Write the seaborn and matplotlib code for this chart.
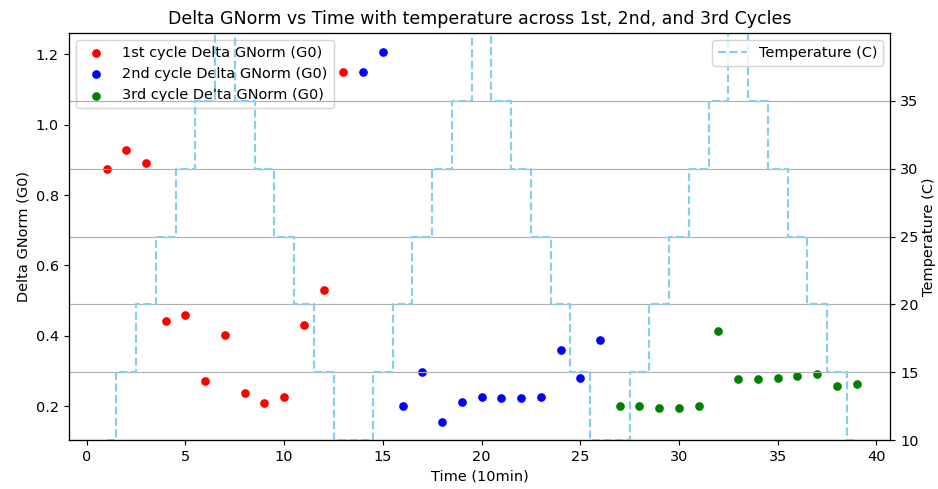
import matplotlib
matplotlib.use("Agg")
import matplotlib.pyplot as plt
import seaborn as sns
import pandas as pd

# Data
time_c1 = [1, 2, 3, 4, 5, 6, 7, 8, 9, 10, 11, 12, 13]
gnorm_c1 = [0.874, 0.928, 0.892, 0.441, 0.459, 0.270, 0.402, 0.237, 0.209, 0.227, 0.429, 0.529, 1.151]
time_c2 = [14, 15, 16, 17, 18, 19, 20, 21, 22, 23, 24, 25, 26]
gnorm_c2 = [1.151, 1.208, 0.200, 0.297, 0.156, 0.212, 0.227, 0.222, 0.222, 0.227, 0.360, 0.281, 0.388]
time_c3 = [27, 28, 29, 30, 31, 32, 33, 34, 35, 36, 37, 38, 39]
gnorm_c3 = [0.200, 0.200, 0.194, 0.194, 0.200, 0.412, 0.278, 0.278, 0.281, 0.284, 0.291, 0.257, 0.264]

time_all = list(range(1, 40))
temperature = [10, 15, 20, 25, 30, 35, 40, 35, 30, 25, 20, 15, 10,
               10, 15, 20, 25, 30, 35, 40, 35, 30, 25, 20, 15, 10,
               10, 15, 20, 25, 30, 35, 40, 35, 30, 25, 20, 15, 10]

DPI = 104
fig, ax1 = plt.subplots(figsize=(938 / DPI, 489 / DPI), dpi=DPI)
fig.subplots_adjust(left=0.0736, right=0.949, top=0.9325, bottom=0.1002)

sns.scatterplot(x=time_c1, y=gnorm_c1, color="red", s=36, linewidth=0,
                label="1st cycle Delta GNorm (G0)", ax=ax1)
sns.scatterplot(x=time_c2, y=gnorm_c2, color="blue", s=36, linewidth=0,
                label="2nd cycle Delta GNorm (G0)", ax=ax1)
sns.scatterplot(x=time_c3, y=gnorm_c3, color="green", s=36, linewidth=0,
                label="3rd cycle Delta GNorm (G0)", ax=ax1)
ax1.set_xlabel("Time (10min)")
ax1.set_ylabel("Delta GNorm (G0)")
ax1.legend(loc="upper left")
ax1.set_title("Delta GNorm vs Time with temperature across 1st, 2nd, and 3rd Cycles")

ax2 = ax1.twinx()
sns.lineplot(x=time_all, y=temperature, color="skyblue", linestyle="--",
             drawstyle="steps-mid", label="Temperature (C)", ax=ax2)
ax2.set_ylim(10, 40)
ax2.set_yticks([10, 15, 20, 25, 30, 35])
ax2.set_ylabel("Temperature (C)", labelpad=2.5)
ax2.grid(True, axis="y")
ax2.legend(loc="upper right")

ax1.set_xlim(-0.9, 40.7)

fig.savefig("out.png", dpi=DPI)
